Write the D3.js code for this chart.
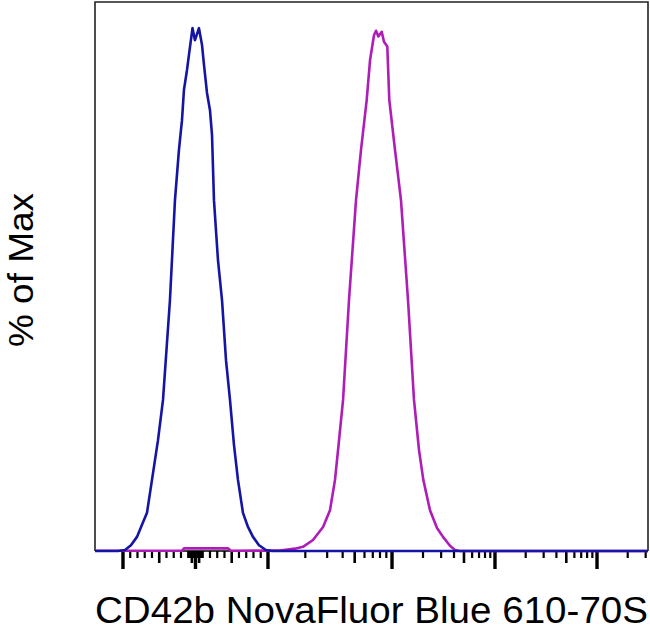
<!DOCTYPE html>
<html><head><meta charset="utf-8">
<script src="https://cdn.jsdelivr.net/npm/d3@7"></script>
<style>html,body{margin:0;padding:0;background:#fff;}svg{display:block;}</style>
</head><body>
<script>
// ---- data (fluorescence value, % of max) ----
const blueX = [-2430,-1172,-972,-890,-807,-738,-669,-600,-517,-448,-352,-283,-228,-186,-159,-117,-90,-41,-7,48,90,117,159,200,228,255,310,366,421,476,531,586,655,724,793,876,972,1077,3160000];
const blueY = [0,0,0.2,1.1,2.7,5.0,7.3,13.6,21.2,28.9,48.0,67.1,76.7,82.4,88.2,92.0,94.9,100,97.7,100,96.8,93.0,87.6,84.3,79.6,67.1,55.7,48.0,36.5,28.9,20.3,13.6,7.3,4.6,2.7,1.1,0.2,0,0];
const magX = [-2430,-186,-159,448,490,1250,1652,1915,2306,2781,3162,3470,3741,4030,4500,5126,5623,6252,6651,7161,7430,7762,8260,8616,9162,9506,10690,12220,14300,16350,18290,20140,23380,27350,31280,36560,40920,45710,3160000];
const magY = [0.05,0.05,0.5,0.5,0.05,0.1,0.45,0.8,2.1,4.6,7.8,13.6,21.2,28.9,48.0,67.1,76.7,86.3,93.9,98.7,99.5,98.4,99.3,97.4,96.5,86.3,76.7,67.1,48.0,28.9,19.3,13.6,7.8,4.4,2.7,1.0,0.2,0,0];
const majorTicks = [-1000,0,1000,10000,100000,1000000];
const mediumTicks = [-500,-50,50,500,5000,50000,500000];
const minorTicks = [-900,-800,-700,-600,-400,-300,-200,-100,-90,-80,-70,-60,-40,-30,-20,-10,
  10,20,30,40,60,70,80,90,100,200,300,400,600,700,800,900,
  2000,3000,4000,6000,7000,8000,9000,20000,30000,40000,60000,70000,80000,90000,
  200000,300000,400000,600000,700000,800000,900000,2000000,3000000];
const xLabel = "CD42b NovaFluor Blue 610-70S";
const yLabel = "% of Max";

// ---- layout ----
const W = 650, H = 633;
const m = {left:95, top:2, right:2, bottom:82};
const pw = W - m.left - m.right, ph = H - m.top - m.bottom;

const svg = d3.select("body").append("svg").attr("width", W).attr("height", H);
const g = svg.append("g").attr("transform", `translate(${m.left},${m.top})`);

// biexponential-like display transform: linear within ±1000, log decades beyond
const toT = v => Math.abs(v) <= 1000 ? v/1000 : Math.sign(v)*(1 + Math.log10(Math.abs(v)/1000));
const tScale = d3.scaleLinear()
  .domain([-1.386,-1,0,1,2,3,4,4.5])
  .range([0,0.0506,0.1817,0.3128,0.5371,0.7233,0.9078,1].map(f => f*pw));
const x = v => tScale(toT(v));
const y = d3.scaleLinear().domain([0,105]).range([ph,0]);

// frame
g.append("path")
  .attr("d", `M0,${ph}V0H${pw}V${ph}`)
  .attr("fill","none").attr("stroke","#222").attr("stroke-width",1.6);

// ticks
const tickSets = [[minorTicks,7,2.2],[mediumTicks,12,2.6],[majorTicks,18,3.4]];
tickSets.forEach(([vals,len,w]) => {
  g.selectAll(null).data(vals).enter().append("line")
    .attr("x1", d => x(d)).attr("x2", d => x(d))
    .attr("y1", ph).attr("y2", ph + len)
    .attr("stroke","#000").attr("stroke-width", w);
});
g.append("line").attr("x1",0).attr("x2",pw).attr("y1",ph).attr("y2",ph)
  .attr("stroke","#000").attr("stroke-width",1.6);

// histograms
const line = d3.line().x(d => x(d[0])).y(d => y(d[1])).curve(d3.curveLinear);
const series = [
  {xs: magX, ys: magY, color: "#ae1db8"},
  {xs: blueX, ys: blueY, color: "#1515a5"}
];
series.forEach(s => {
  g.append("path").datum(s.xs.map((v,i) => [v, s.ys[i]]))
    .attr("d", line).attr("fill","none").attr("stroke", s.color)
    .attr("stroke-width", 2.6).attr("stroke-linejoin","round");
});

// labels
svg.append("text").attr("x", m.left + pw/2).attr("y", 623)
  .attr("text-anchor","middle").attr("font-family","Liberation Sans, Arial, sans-serif")
  .attr("font-size", 37).attr("textLength", 553).attr("lengthAdjust","spacingAndGlyphs")
  .text(xLabel);
svg.append("text").attr("transform", `translate(33,${m.top + 268}) rotate(-90)`)
  .attr("text-anchor","middle").attr("font-family","Liberation Sans, Arial, sans-serif")
  .attr("font-size", 35).attr("textLength", 154).attr("lengthAdjust","spacingAndGlyphs")
  .text(yLabel);
</script>
</body></html>
